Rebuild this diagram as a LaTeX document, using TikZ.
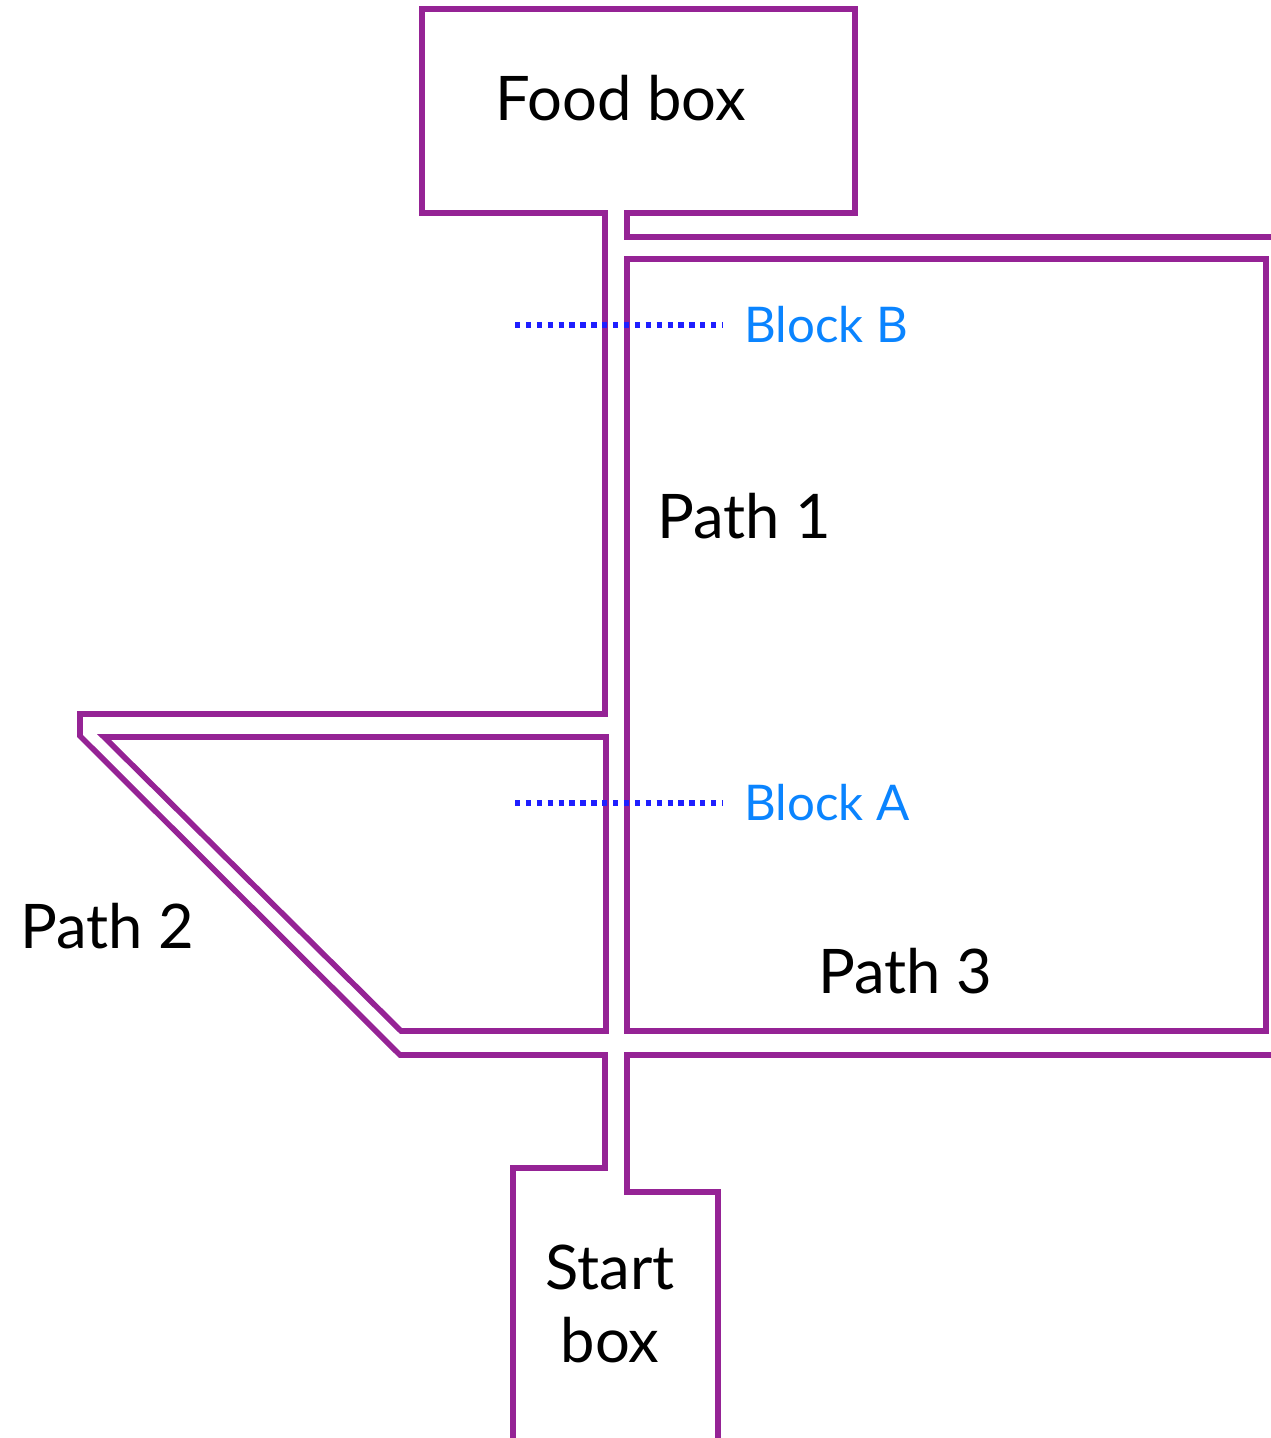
\documentclass[tikz,border=0pt]{standalone}
\usepackage{fontspec}
\setmainfont{Lato}
\usepackage{xcolor}
\definecolor{wallPurple}{HTML}{952395}
\definecolor{dotBlue}{HTML}{1F1FFF}
\definecolor{labelBlue}{HTML}{0A84FF}
\usepackage{tikz}
\usetikzlibrary{positioning}
\tikzset{%
  mazeWall/.style={%
    draw=wallPurple,
    line width=3.2pt,
    line join=miter
  },
  blockLine/.style={%
    draw=dotBlue,
    line width=3pt,
    dash pattern=on 3pt off 3.2pt
  },
  pathLabel/.style={%
    inner sep=0pt,
    anchor=base west,
    font=\fontsize{35}{41}\selectfont
  },
  blockLabel/.style={%
    inner sep=0pt,
    text=labelBlue,
    font=\fontsize{28}{33}\selectfont
  }
}

\begin{document}
\begin{tikzpicture}[x=0.02cm,y=-0.02cm]
  \useasboundingbox (0,0) rectangle (1271,1438);

  % outer wall on the left, from the top corridor round the food box and path 2
  \draw[mazeWall] (1271,237) -- (627,237) -- (627,213) -- (855,213) -- (855,9)
    -- (422,9) -- (422,213) -- (605,213) -- (605,714) -- (80,714) -- (80,736)
    -- (400,1055) -- (605,1055) -- (605,1168) -- (513,1168) -- (513,1438);
  % outer wall on the right, down into the start box
  \draw[mazeWall] (1271,1055) -- (627,1055) -- (627,1192) -- (718,1192) -- (718,1438);
  % inner blocks
  \draw[mazeWall] (104,737) -- (606,737) -- (606,1031) -- (401,1031) -- cycle;
  \draw[mazeWall] (627,259) rectangle (1266,1031);

  % blocks on path 1
  \coordinate (bStart) at (515,325);
  \coordinate (bEnd) at (722,325);
  \coordinate (aStart) at (515,803);
  \coordinate (aEnd) at (722,803);
  \draw[blockLine] (bStart) -- (bEnd);
  \draw[blockLine] (aStart) -- (aEnd);
  \node[blockLabel, right=0.44cm of bEnd] (blockB) {Block B};
  \node[blockLabel, right=0.44cm of aEnd] (blockA) {Block A};

  \node[pathLabel] (foodBox) at (495,120) {Food box};
  \node[pathLabel] (path1) at (657,538) {Path 1};
  \node[pathLabel] (path2) at (20,948) {Path 2};
  \node[pathLabel] (path3) at (818,993) {Path 3};
  \node[inner sep=0pt, align=center, font=\fontsize{35}{41.5}\selectfont]
    (startBox) at (610,1304) {Start\\box};
\end{tikzpicture}
\end{document}
